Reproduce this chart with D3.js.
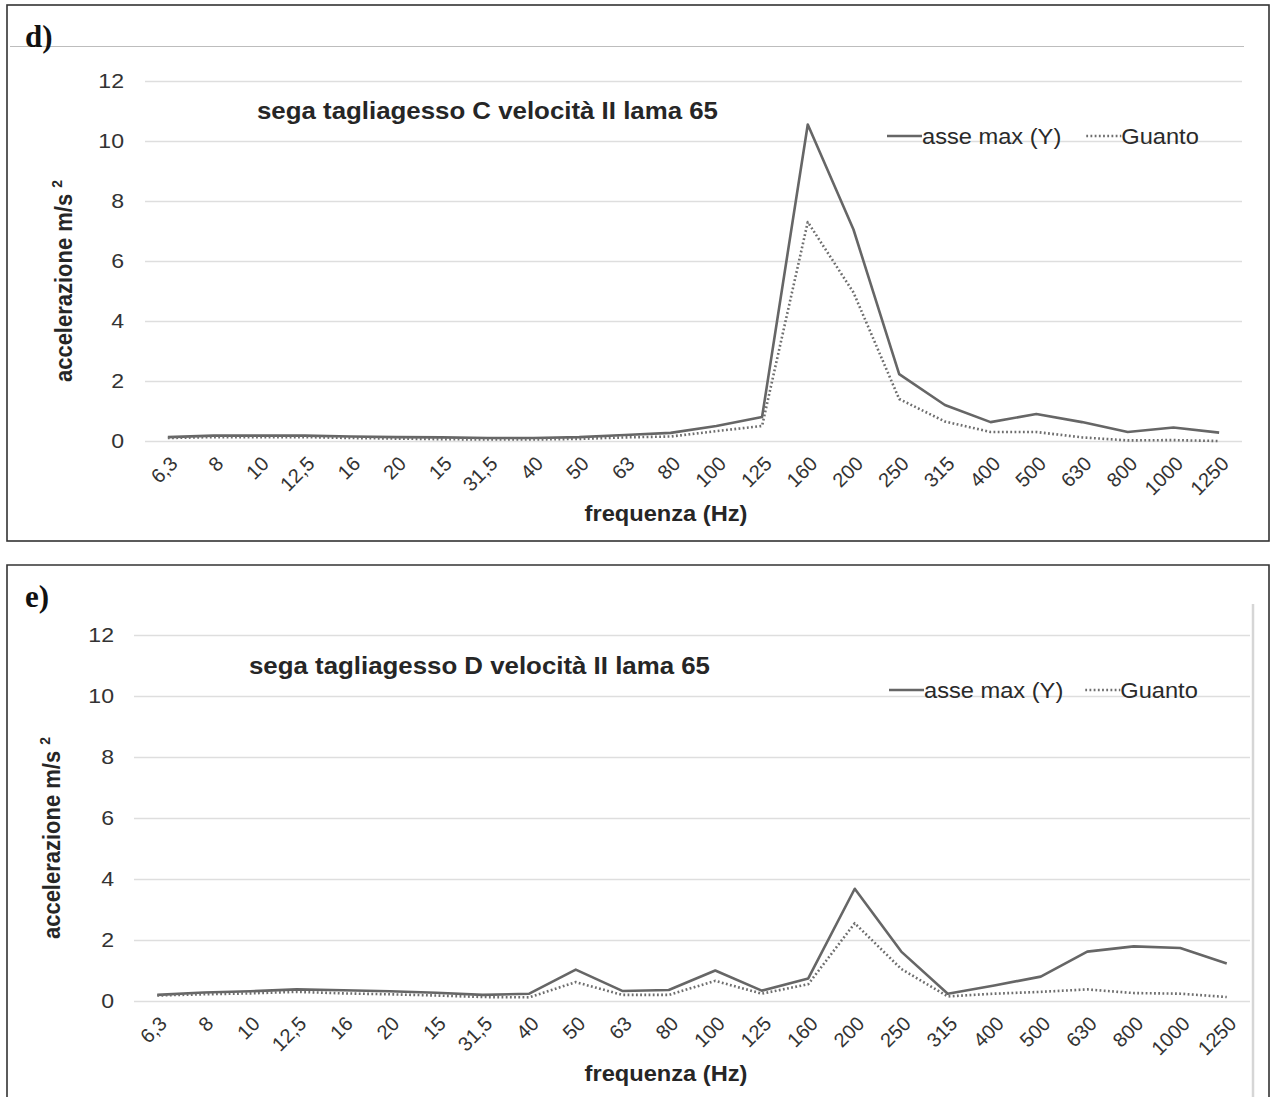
<!DOCTYPE html>
<html>
<head>
<meta charset="utf-8">
<script src="https://cdn.jsdelivr.net/npm/d3@7"></script>
<style>
  html, body { margin: 0; padding: 0; background: #fff; }
  svg { display: block; font-family: "Liberation Sans", Arial, sans-serif; }
</style>
</head>
<body>
<svg id="chart" width="1271" height="1097"></svg>
<script>
// frequency bands (labels as printed, including the "15" between 20 and 31,5)
const categories = ["6,3", "8", "10", "12,5", "16", "20", "15", "31,5", "40", "50", "63", "80",
    "100", "125", "160", "200", "250", "315", "400", "500", "630", "800", "1000", "1250"];
const yTicks = [0, 2, 4, 6, 8, 10, 12];
const seriesNames = ["asse max (Y)", "Guanto"];
const panelLabels = ["d)", "e)"];
const panelTitles = ["sega tagliagesso C velocità II lama 65", "sega tagliagesso D velocità II lama 65"];

// panel d) - saw C
const asseMaxC = [0.13, 0.18, 0.18, 0.18, 0.15, 0.13, 0.12, 0.1, 0.1, 0.13, 0.2, 0.27,
    0.5, 0.8, 10.55, 7.05, 2.23, 1.2, 0.63, 0.9, 0.63, 0.3, 0.45, 0.28];
const guantoC = [0.1, 0.13, 0.13, 0.13, 0.1, 0.08, 0.06, 0.05, 0.05, 0.07, 0.12, 0.15,
    0.33, 0.5, 7.3, 4.95, 1.4, 0.65, 0.3, 0.3, 0.12, 0.02, 0.03, 0.0];

// panel e) - saw D
const asseMaxD = [0.2, 0.28, 0.32, 0.38, 0.35, 0.32, 0.27, 0.2, 0.24, 1.03, 0.33, 0.36,
    1.0, 0.34, 0.74, 3.68, 1.62, 0.24, 0.51, 0.8, 1.62, 1.79, 1.74, 1.23];
const guantoD = [0.18, 0.22, 0.25, 0.3, 0.25, 0.22, 0.18, 0.13, 0.12, 0.62, 0.2, 0.2,
    0.66, 0.24, 0.55, 2.55, 1.05, 0.15, 0.24, 0.3, 0.38, 0.26, 0.24, 0.13];

const svg = d3.select("#chart");
const SX = 1.1; // the scanned figure is slightly wider than tall

const lineStyles = [
    { stroke: "#666", width: 2.6, dash: null },
    { stroke: "#6e6e6e", width: 2.6, dash: "1.8,2.4" }
];

function stretchedText(g, x, y, txt) {
    return g.append("text")
        .attr("transform", `translate(${x},${y}) scale(${SX},1)`)
        .text(txt);
}

function drawPanel(p, label, title, series) {
    const g = svg.append("g");

    // frame
    if (p.closedFrame) {
        g.append("rect")
            .attr("x", p.frame[0]).attr("y", p.frame[1])
            .attr("width", p.frame[2] - p.frame[0]).attr("height", p.frame[3] - p.frame[1])
            .attr("fill", "none").attr("stroke", "#333").attr("stroke-width", 1.6);
    } else {
        g.append("path")
            .attr("d", `M${p.frame[0]},${p.frame[3]} V${p.frame[1]} H${p.frame[2]} V${p.frame[3]}`)
            .attr("fill", "none").attr("stroke", "#333").attr("stroke-width", 1.6);
    }
    if (p.sepLine) {
        g.append("line")
            .attr("x1", p.sepLine[0]).attr("x2", p.sepLine[1])
            .attr("y1", p.sepLine[2]).attr("y2", p.sepLine[2])
            .attr("stroke", "#bdbdbd").attr("stroke-width", 1.2);
    }
    if (p.sideLine) {
        g.append("line")
            .attr("x1", p.sideLine[0]).attr("x2", p.sideLine[0])
            .attr("y1", p.sideLine[1]).attr("y2", p.sideLine[2])
            .attr("stroke", "#d6d6d6").attr("stroke-width", 2.5);
    }

    // panel letter
    g.append("text")
        .attr("x", p.labelPos[0]).attr("y", p.labelPos[1])
        .attr("font-family", "'Liberation Serif', 'Times New Roman', serif")
        .attr("font-weight", "bold").attr("font-size", 31)
        .attr("fill", "#111")
        .text(label);

    const x = d3.scaleBand().domain(categories).range([p.plotX[0], p.plotX[1]]);
    const y = d3.scaleLinear().domain([0, 12]).range([p.y0, p.y12]);
    const cx = c => x(c) + x.bandwidth() / 2;

    // y axis + gridlines
    const yAxis = g.append("g")
        .attr("transform", `translate(${p.plotX[0]},0)`)
        .call(d3.axisLeft(y).tickValues(yTicks).tickFormat(d3.format("d"))
            .tickSize(-(p.plotX[1] - p.plotX[0])).tickPadding(p.yPad));
    yAxis.select(".domain").remove();
    yAxis.selectAll(".tick line").attr("stroke", "#dedede").attr("stroke-width", 1.5);
    yAxis.selectAll(".tick text")
        .attr("font-size", 21).attr("fill", "#333")
        .attr("font-family", "'Liberation Sans', Arial, sans-serif")
        .each(function () {
            const t = d3.select(this);
            const xx = +t.attr("x");
            t.attr("x", null).attr("transform", `translate(${xx},0) scale(${SX},1)`);
        });

    // x axis
    const xAxis = g.append("g")
        .attr("transform", `translate(0,${p.y0})`)
        .call(d3.axisBottom(x).tickSize(0));
    xAxis.select(".domain").remove();
    xAxis.selectAll(".tick text")
        .attr("y", 0).attr("dy", "0.35em")
        .attr("font-size", 20).attr("fill", "#333")
        .attr("font-family", "'Liberation Sans', Arial, sans-serif")
        .attr("text-anchor", "end")
        .attr("transform", "translate(6,19) rotate(-45)");

    // series
    const line = d3.line().x((d, i) => cx(categories[i])).y(d => y(d));
    series.forEach((vals, k) => {
        const s = lineStyles[k];
        g.append("path")
            .datum(vals)
            .attr("d", line)
            .attr("fill", "none")
            .attr("stroke", s.stroke)
            .attr("stroke-width", s.width)
            .attr("stroke-dasharray", s.dash)
            .attr("stroke-linejoin", "round");
    });

    // chart title
    stretchedText(g, p.titlePos[0], p.titlePos[1], title)
        .attr("font-weight", "bold").attr("font-size", 23.5).attr("fill", "#262626");

    // legend
    const lg = g.append("g");
    let lx = p.legend[0];
    const ly = p.legend[1];
    seriesNames.forEach((name, k) => {
        const s = lineStyles[k];
        lg.append("line")
            .attr("x1", lx).attr("x2", lx + 35)
            .attr("y1", ly).attr("y2", ly)
            .attr("stroke", s.stroke).attr("stroke-width", s.width)
            .attr("stroke-dasharray", s.dash);
        const t = stretchedText(lg, lx + 35, ly + 7.5, name)
            .attr("font-size", 21.5).attr("fill", "#2a2a2a");
        lx += 35 + t.node().getComputedTextLength() * SX + p.legendGap;
    });

    // axis titles
    stretchedText(g, p.xTitle[0], p.xTitle[1], "frequenza (Hz)")
        .attr("text-anchor", "middle")
        .attr("font-weight", "bold").attr("font-size", 21.5).attr("fill", "#262626");

    const yt = g.append("text")
        .attr("transform", `translate(${p.yTitle[0]},${p.yTitle[1]}) rotate(-90) scale(1,${SX})`)
        .attr("text-anchor", "middle")
        .attr("font-weight", "bold").attr("font-size", 22).attr("fill", "#262626");
    yt.append("tspan").text("accelerazione m/s ");
    yt.append("tspan").attr("font-size", 14).attr("dy", -9).text("2");
}

drawPanel({
    frame: [7, 5, 1269, 541], closedFrame: true,
    sepLine: [10, 1244, 46.5],
    labelPos: [25, 47],
    plotX: [145, 1242], y0: 441, y12: 81, yPad: 21,
    titlePos: [257, 119],
    legend: [887, 136], legendGap: 25,
    xTitle: [666, 521], yTitle: [72, 281]
}, panelLabels[0], panelTitles[0], [asseMaxC, guantoC]);

drawPanel({
    frame: [7, 565, 1269, 1110], closedFrame: false,
    sideLine: [1253, 604, 1097],
    labelPos: [25, 607],
    plotX: [134, 1250], y0: 1001, y12: 635, yPad: 20,
    titlePos: [249, 674],
    legend: [889, 690], legendGap: 22,
    xTitle: [666, 1081], yTitle: [60, 838]
}, panelLabels[1], panelTitles[1], [asseMaxD, guantoD]);
</script>
</body>
</html>
